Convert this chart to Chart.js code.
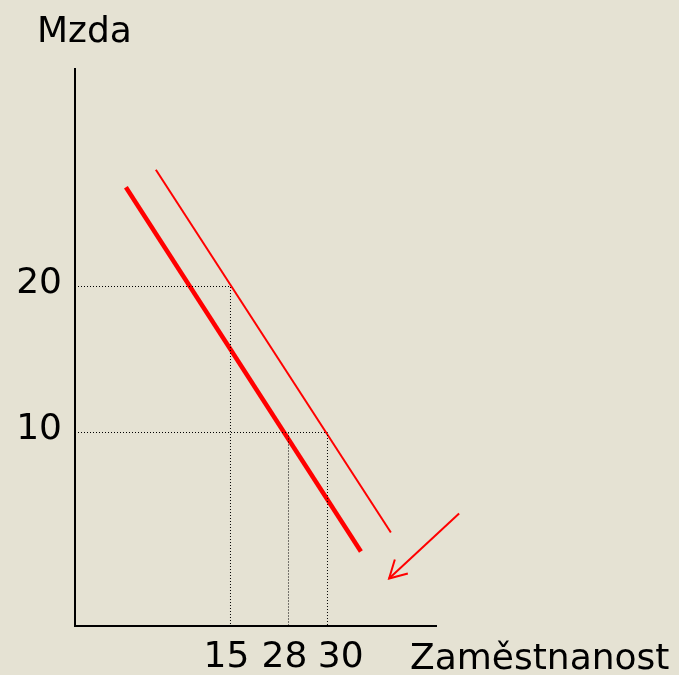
<!DOCTYPE html>
<html>
<head>
<meta charset="utf-8">
<script src="https://cdn.jsdelivr.net/npm/chart.js@4.4.1/dist/chart.umd.min.js"></script>
<style>
  html, body { margin: 0; padding: 0; background: #e5e2d3; }
  canvas { display: block; }
</style>
</head>
<body>
<canvas id="c" width="679" height="675"></canvas>
<script>
// ---- data (schematic diagram: x in relative position units, y in wage units) ----
const yTitle = 'Mzda';
const xTitle = 'Zaměstnanost';
const xTickLabels = ['15', '28', '30'];
const xTickPos = [43.07, 59.14, 69.94];
const yTickValues = [10, 20];
const demandOld = [{x: 22.4, y: 28.0}, {x: 87.5, y: 3.15}];
const demandNew = [{x: 14.1, y: 26.8}, {x: 79.2, y: 1.85}];
const arrowShaft = [{x: 106.4, y: 4.45}, {x: 87.0, y: 0.0}];
const arrowHead = [{x: 88.6, y: 1.3}, {x: 87.0, y: 0.0}, {x: 92.2, y: 0.34}];
const xMin = 0, xMax = 100, yMin = -3.253, yMax = 34.897;

// guide lines built from the tick arrays
const guide20 = [{x: xMin, y: yTickValues[1]}, {x: xTickPos[0], y: yTickValues[1]}, {x: xTickPos[0], y: yMin}];
const guide10 = [{x: xMin, y: yTickValues[0]}, {x: xTickPos[2], y: yTickValues[0]}, {x: xTickPos[2], y: yMin}];
const guide28 = [{x: xTickPos[1], y: yTickValues[0]}, {x: xTickPos[1], y: yMin}];

const FONT = '"DejaVu Sans", sans-serif';
const FSIZE = 36;
const dotted = d => ({data: d, showLine: true, borderColor: '#000', borderWidth: 1, borderDash: [1, 2], pointRadius: 0, fill: false});
const red = (d, w) => ({data: d, showLine: true, borderColor: '#ff0000', borderWidth: w, pointRadius: 0, fill: false, clip: false});

const titles = {
  id: 'titles',
  afterDraw(chart) {
    const ctx = chart.ctx;
    ctx.save();
    ctx.fillStyle = '#000';
    ctx.font = FSIZE + 'px ' + FONT;
    ctx.textBaseline = 'alphabetic';
    ctx.textAlign = 'left';
    ctx.fillText(yTitle, 37, 42);
    ctx.fillText(xTitle, 410, 669);
    ctx.restore();
  }
};

new Chart(document.getElementById('c'), {
  type: 'scatter',
  data: {
    datasets: [
      dotted(guide20), dotted(guide10), dotted(guide28),
      red(demandNew, 4.5), red(demandOld, 2),
      red(arrowShaft, 2), red(arrowHead, 2)
    ]
  },
  options: {
    responsive: false,
    animation: false,
    layout: {padding: {top: 69, right: 243, left: 0, bottom: 0}},
    plugins: {legend: {display: false}, tooltip: {enabled: false}},
    scales: {
      x: {
        type: 'linear', min: xMin, max: xMax,
        grid: {display: false, drawTicks: false},
        border: {color: '#000', width: 2},
        afterBuildTicks: s => { s.ticks = xTickPos.map(v => ({value: v})); },
        afterFit: s => { s.height = 49; },
        ticks: {
          autoSkip: false, maxRotation: 0, padding: 10, labelOffset: -4,
          color: '#000', font: {family: FONT, size: FSIZE},
          callback: (v, i) => (i === 2 ? '   ' : '') + xTickLabels[i]
        }
      },
      y: {
        type: 'linear', min: yMin, max: yMax,
        grid: {display: false, drawTicks: false},
        border: {color: '#000', width: 2},
        afterBuildTicks: s => { s.ticks = yTickValues.map(v => ({value: v})); },
        afterFit: s => { s.width = 75; },
        ticks: {
          autoSkip: false, padding: 13, labelOffset: -3,
          color: '#000', font: {family: FONT, size: FSIZE},
          callback: v => String(v)
        }
      }
    }
  },
  plugins: [titles]
});
</script>
</body>
</html>
